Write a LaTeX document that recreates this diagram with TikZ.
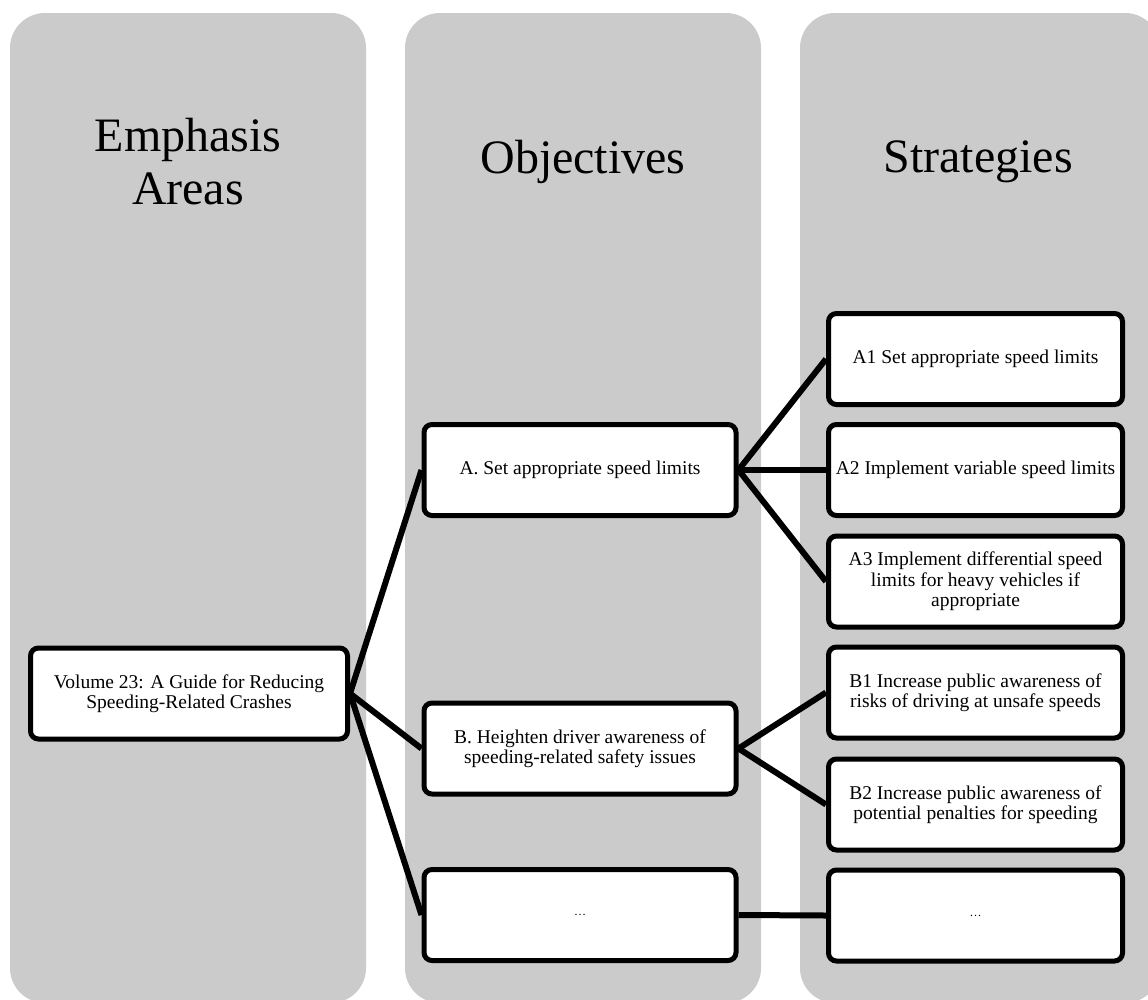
\documentclass[tikz,border=0pt]{standalone}
\usepackage{fontspec}
\setmainfont{Liberation Serif}
\definecolor{panelgray}{HTML}{CBCBCB}
\begin{document}
\begin{tikzpicture}[x=1pt,y=-1pt,
  panel/.style={fill=panelgray,draw=none,rounded corners=35pt},
  heading/.style={font=\fontsize{48}{53}\selectfont,align=center,text=black},
  itembox/.style={draw=black,fill=white,line width=5pt,rounded corners=8pt,
    align=center,inner sep=2pt,font=\fontsize{19.5}{20.5}\selectfont,
    minimum height=91pt},
  volbox/.style={itembox,minimum width=317pt},
  objbox/.style={itembox,minimum width=312pt},
  strbox/.style={itembox,minimum width=294pt},
  link/.style={draw=black,line width=6pt}]
\useasboundingbox (0,0) rectangle (1148,999);
\clip (0,0) rectangle (1148,999);
% panels
\path[panel] (10,13) rectangle (366,1003);
\path[panel] (405,13) rectangle (761,1003);
\path[panel] (800,13) rectangle (1160,1003);
% headings
\node[heading] (hEA) at (188,162) {Emphasis\\Areas};
\node[heading] (hOB) at (583,162) {Objectives};
\node[heading] (hST) at (978,162) {Strategies};
% nodes
\node[volbox] (vol) at (189,693.5) {Volume 23: A Guide for Reducing\\Speeding-Related Crashes};
\node[objbox] (A) at (580,470) {A. Set appropriate speed limits};
\node[objbox] (B) at (580,748.5) {B. Heighten driver awareness of\\speeding-related safety issues};
\node[objbox] (C) at (580,915) {\fontsize{12}{14}\selectfont\ldots};
\node[strbox] (A1) at (975.5,359) {A1 Set appropriate speed limits};
\node[strbox] (A2) at (975.5,470) {A2 Implement variable speed limits};
\node[strbox] (A3) at (975.5,581.5) {A3 Implement differential speed\\limits for heavy vehicles if\\appropriate};
\node[strbox] (B1) at (975.5,692.5) {B1 Increase public awareness of\\risks of driving at unsafe speeds};
\node[strbox] (B2) at (975.5,804.5) {B2 Increase public awareness of\\potential penalties for speeding};
\node[strbox] (C1) at (975.5,915.5) {\fontsize{12}{14}\selectfont\ldots};
% connectors
\draw[link] (vol.east) -- (A.west);
\draw[link] (vol.east) -- (B.west);
\draw[link] (vol.east) -- (C.west);
\draw[link] (A.east) -- (A1.west);
\draw[link] (A.east) -- (A2.west);
\draw[link] (A.east) -- (A3.west);
\draw[link] (B.east) -- (B1.west);
\draw[link] (B.east) -- (B2.west);
\draw[link] (C.east) -- (C1.west);
\end{tikzpicture}
\end{document}
